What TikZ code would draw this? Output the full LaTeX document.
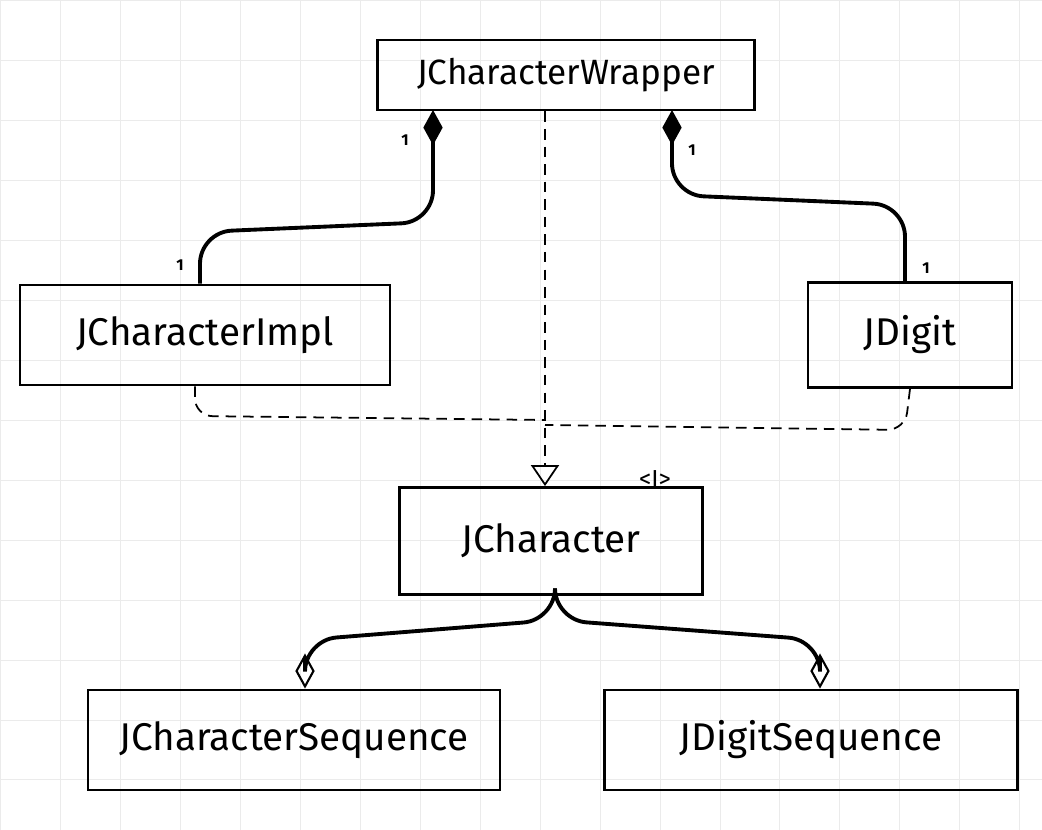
\documentclass[tikz,border=0pt]{standalone}
\usepackage{fontspec}
\setmainfont{Fira Sans}
\usetikzlibrary{arrows.meta}
\tikzstyle{Class}=[rectangle, draw=black, line width=1.6pt, inner sep=0pt, font=\fontsize{22}{26}\selectfont]
\tikzstyle{Comp}=[line width=2.2pt, rounded corners=18pt]
\tikzstyle{Real}=[dash pattern=on 6pt off 4pt, line width=1pt]
\begin{document}
\begin{tikzpicture}[x=0.02cm, y=-0.02cm]
    \useasboundingbox (0,0) rectangle (1042,830);
    % grid paper
    \draw[black!8, step=1.2cm] (0,0) grid (1042,830);
    \path (566,75) node[Class, minimum width=7.54cm, minimum height=1.4cm, font=\fontsize{20}{24}\selectfont] (wrap) {JCharacterWrapper}
    (205,335) node[Class, minimum width=7.4cm, minimum height=2cm] (impl) {JCharacterImpl}
    (910,335) node[Class, minimum width=4.08cm, minimum height=2.1cm] (dig) {JDigit}
    (551,541) node[Class, minimum width=6.06cm, minimum height=2.14cm] (jc) {JCharacter}
    (294,740) node[Class, minimum width=8.24cm, minimum height=2cm] (cseq) {JCharacterSequence}
    (811,740) node[Class, minimum width=8.26cm, minimum height=2cm] (dseq) {JDigitSequence};
    \draw (655,490) node[anchor=south, font=\fontsize{14}{16}\selectfont, inner sep=1pt] (stereo) {<I>};
    % composition
    \draw[Comp, {Diamond[length=20pt, width=11pt]}-] (433,110) -- (433,222) -- (200,232) -- (impl.north -| 200,0);
    \draw[Comp, {Diamond[length=20pt, width=11pt]}-] (672,110) -- (672,195) -- (905,205) -- (dig.north -| 905,0);
    \path (405,140) node[font=\small\bfseries] (m1) {1}
    (180,265) node[font=\small\bfseries] (m2) {1}
    (692,150) node[font=\small\bfseries] (m3) {1}
    (926,268) node[font=\small\bfseries] (m4) {1};
    % realization
    \draw[Real, -{Triangle[open, length=12pt, width=16pt]}] (wrap.south -| 545,0) -- (jc.north -| 545,0);
    \draw[Real, rounded corners=10pt] (impl.south -| 195,0) -- (195,416) -- (545,420);
    \draw[Real, rounded corners=10pt] (dig.south -| 910,0) -- (905,430) -- (545,425);
    % aggregation
    \draw[Comp, -{Diamond[open, line width=1.2pt, length=20pt, width=11pt]}] (jc.south -| 555,0) -- (555,620) -- (305,640) -- (cseq.north -| 305,0);
    \draw[Comp, -{Diamond[open, line width=1.2pt, length=20pt, width=11pt]}] (jc.south -| 555,0) -- (555,620) -- (820,640) -- (dseq.north -| 820,0);
\end{tikzpicture}
\end{document}
